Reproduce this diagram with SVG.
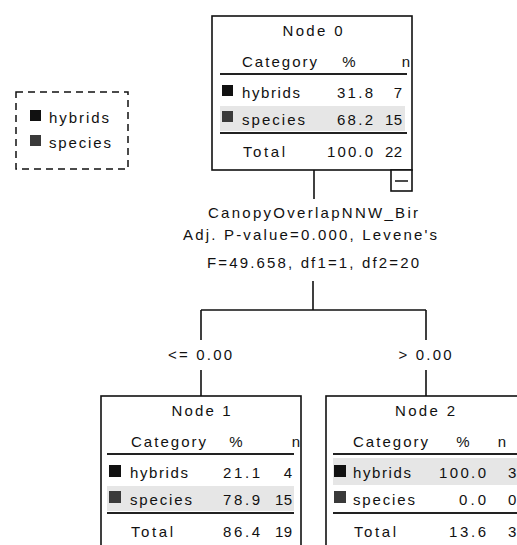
<svg xmlns="http://www.w3.org/2000/svg" width="517" height="545" viewBox="0 0 517 545">
<style>
text{font-family:"Liberation Sans",Arial,sans-serif;font-size:15px;fill:#111}
.box{fill:#fff;stroke:#111;stroke-width:1.6}
.rule{stroke:#222;stroke-width:2}
.hl{fill:#e6e6e6}
.sq1{fill:#111}
.sq2{fill:#3a3a3a}
.mid{text-anchor:middle}
.end{text-anchor:end}
.conn{stroke:#111;stroke-width:1.6;fill:none}
</style>
<rect width="517" height="545" fill="#fff"/>
<g id="legend">
<rect x="16" y="92" width="112" height="77" fill="none" stroke="#111" stroke-width="1.5" stroke-dasharray="7 5"/>
<rect class="sq1" x="30" y="110" width="11" height="11"/>
<text x="49" y="123" textLength="60" lengthAdjust="spacing">hybrids</text>
<rect class="sq2" x="30" y="135" width="11" height="11"/>
<text x="49" y="148" textLength="62" lengthAdjust="spacing">species</text>
</g>
<g id="connectors" class="conn">
<path d="M314 170V199"/>
<path d="M313 281V310M201 310H426M201 310V340M426 310V340M201 370V396M426 370V396"/>
</g>
<g id="split">
<text class="mid" x="313" y="218" textLength="210" lengthAdjust="spacing">CanopyOverlapNNW_Bir</text>
<text class="mid" x="310" y="240" textLength="254" lengthAdjust="spacing">Adj. P-value=0.000, Levene's</text>
<text class="mid" x="313" y="268" textLength="212" lengthAdjust="spacing">F=49.658, df1=1, df2=20</text>
<text class="mid" x="200" y="360" textLength="64" lengthAdjust="spacing">&lt;= 0.00</text>
<text class="mid" x="425" y="360" textLength="53" lengthAdjust="spacing">&gt; 0.00</text>
</g>
<g id="node0">
<g transform="translate(212,16)">
<rect class="box" x="0" y="0" width="200" height="154"/>
<text class="mid" x="100.5" y="20" textLength="60" lengthAdjust="spacing">Node 0</text>
<text x="30" y="51" textLength="75" lengthAdjust="spacing">Category</text>
<text class="mid" x="137" y="51">%</text>
<text class="end" x="198" y="51">n</text>
<line class="rule" x1="8" y1="58" x2="195" y2="58"/>
<rect class="hl" x="8" y="90" width="185" height="25"/>
<rect class="sq1" x="10" y="69" width="11" height="11"/>
<text x="30" y="82" textLength="58" lengthAdjust="spacing">hybrids</text>
<text class="end" x="161" y="82" textLength="36" lengthAdjust="spacing">31.8</text>
<text class="end" x="190" y="82">7</text>
<rect class="sq2" x="10" y="95" width="11" height="11"/>
<text x="30" y="109" textLength="63" lengthAdjust="spacing">species</text>
<text class="end" x="161" y="109" textLength="36" lengthAdjust="spacing">68.2</text>
<text class="end" x="190" y="109" textLength="17" lengthAdjust="spacing">15</text>
<line class="rule" x1="8" y1="117" x2="195" y2="117"/>
<text x="31" y="141" textLength="42" lengthAdjust="spacing">Total</text>
<text class="end" x="161" y="141" textLength="46" lengthAdjust="spacing">100.0</text>
<text class="end" x="190" y="141" textLength="17" lengthAdjust="spacing">22</text>
</g>
<rect class="box" x="391" y="170" width="21" height="21"/>
<line x1="395" y1="181" x2="408" y2="181" stroke="#111" stroke-width="1.5"/>
</g>
<g id="node1" transform="translate(101,396)">
<rect class="box" x="0" y="0" width="200" height="154"/>
<text class="mid" x="100" y="20" textLength="59" lengthAdjust="spacing">Node 1</text>
<text x="30" y="51" textLength="75" lengthAdjust="spacing">Category</text>
<text class="mid" x="135" y="51">%</text>
<text class="end" x="199" y="51">n</text>
<line class="rule" x1="6" y1="58" x2="193" y2="58"/>
<rect class="hl" x="6" y="90" width="187" height="25"/>
<rect class="sq1" x="8" y="69" width="12" height="12"/>
<text x="29" y="82" textLength="58" lengthAdjust="spacing">hybrids</text>
<text class="end" x="159" y="82" textLength="37" lengthAdjust="spacing">21.1</text>
<text class="end" x="191" y="82">4</text>
<rect class="sq2" x="8" y="95" width="12" height="12"/>
<text x="29" y="109" textLength="62" lengthAdjust="spacing">species</text>
<text class="end" x="159" y="109" textLength="37" lengthAdjust="spacing">78.9</text>
<text class="end" x="191" y="109" textLength="17" lengthAdjust="spacing">15</text>
<line class="rule" x1="6" y1="117" x2="193" y2="117"/>
<text x="30" y="141" textLength="42" lengthAdjust="spacing">Total</text>
<text class="end" x="159" y="141" textLength="37" lengthAdjust="spacing">86.4</text>
<text class="end" x="191" y="141" textLength="17" lengthAdjust="spacing">19</text>
</g>
<g id="node2" transform="translate(326,396)">
<rect class="box" x="0" y="0" width="200" height="154"/>
<text class="mid" x="99" y="20" textLength="60" lengthAdjust="spacing">Node 2</text>
<text x="27" y="51" textLength="75" lengthAdjust="spacing">Category</text>
<text class="mid" x="137" y="51">%</text>
<text class="end" x="180" y="51">n</text>
<line class="rule" x1="7" y1="58" x2="194" y2="58"/>
<rect class="hl" x="7" y="62" width="187" height="27"/>
<rect class="sq1" x="8" y="69" width="12" height="12"/>
<text x="27" y="82" textLength="58" lengthAdjust="spacing">hybrids</text>
<text class="end" x="160" y="82" textLength="47" lengthAdjust="spacing">100.0</text>
<text x="182" y="82">3</text>
<rect class="sq2" x="8" y="95" width="12" height="12"/>
<text x="27" y="109" textLength="62" lengthAdjust="spacing">species</text>
<text class="end" x="160" y="109" textLength="27" lengthAdjust="spacing">0.0</text>
<text x="182" y="109">0</text>
<line class="rule" x1="7" y1="117" x2="194" y2="117"/>
<text x="28" y="141" textLength="42" lengthAdjust="spacing">Total</text>
<text class="end" x="160" y="141" textLength="37" lengthAdjust="spacing">13.6</text>
<text x="182" y="141">3</text>
</g>
</svg>
